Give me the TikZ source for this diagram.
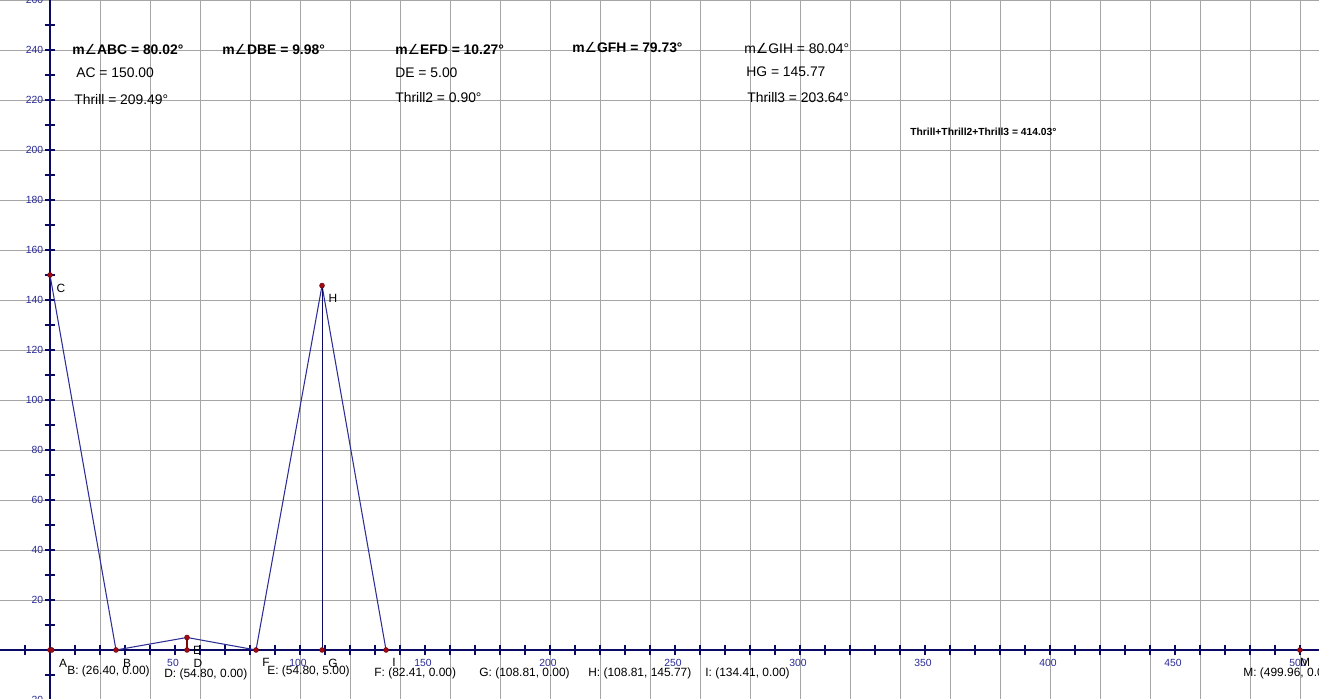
\documentclass[tikz,border=0pt]{standalone}
\usepackage{fontspec}
\setmainfont{Liberation Sans}
\newfontfamily\dejavu{DejaVu Sans}
\definecolor{gridgray}{RGB}{165,165,165}
\definecolor{axisnavy}{RGB}{10,10,100}
\definecolor{ticklbl}{RGB}{40,40,150}
\definecolor{segblue}{RGB}{45,45,150}
\definecolor{ptred}{RGB}{160,10,20}
\newcommand{\ang}{{\fontspec{DejaVu Sans}\mdseries ∠}}
\begin{document}
\begin{tikzpicture}[x=0.05cm,y=0.05cm,
  gridline/.style={draw=gridgray,line width=0.55pt},
  axisline/.style={draw=axisnavy,line width=0.7pt},
  ticklabel/.style={text=ticklbl,inner sep=0pt,font=\fontsize{5.9}{7}\selectfont},
  bigtxt/.style={anchor=west,inner sep=0pt,font=\fontsize{7.9}{9}\selectfont},
  bigbold/.style={anchor=west,inner sep=0pt,font=\fontsize{7.9}{9}\selectfont\bfseries},
  smallbold/.style={anchor=west,inner sep=0pt,font=\fontsize{5.85}{7}\selectfont\bfseries},
  ptlabel/.style={inner sep=0pt,font=\fontsize{6.8}{8}\selectfont},
  coordlabel/.style={anchor=west,inner sep=0pt,font=\fontsize{6.8}{8}\selectfont},
  seg/.style={draw=segblue,line width=0.6pt},
  dot/.style={circle,fill=ptred,draw=ptred!70!black,line width=0.3pt,inner sep=0pt,minimum size=2.8pt}]
\useasboundingbox (-20,-19.6) rectangle (507.6,260);
\clip (-20,-19.6) rectangle (507.6,260);
% grid
\foreach \x in {0,20,...,500} \draw[gridline] (\x,-19.6) -- (\x,260);
\foreach \y in {-20,0,...,260} \draw[gridline] (-20,\y) -- (507.6,\y);
% axes
\draw[axisline] (-20,0) -- (507.6,0);
\draw[axisline] (0,-19.6) -- (0,260);
\foreach \x in {-10,10,20,...,500} \draw[axisline] (\x,-2) -- (\x,2);
\foreach \y in {-10,10,20,...,250} \draw[axisline] (-2,\y) -- (2,\y);
\foreach \x in {50,100,...,500} \node[ticklabel] at (\x-0.8,-5.2) {\x};
\foreach \y in {-20,20,40,...,260} \node[ticklabel,anchor=east] at (-2.6,\y) {\y};
% points
\coordinate (pA) at (0,0);
\coordinate (pB) at (26.40,0);
\coordinate (pC) at (0,150);
\coordinate (pD) at (54.80,0);
\coordinate (pE) at (54.80,5);
\coordinate (pF) at (82.41,0);
\coordinate (pG) at (108.81,0);
\coordinate (pH) at (108.81,145.77);
\coordinate (pI) at (134.41,0);
\coordinate (pM) at (499.96,0);
% segments
\draw[seg] (pC) -- (pB) -- (pE) -- (pF) -- (pH) -- (pI);
\draw[draw=axisnavy,line width=0.6pt] (pH) -- (pG);
\draw[draw=ptred!80!black,line width=0.6pt] (pD) -- (pE);
% dots
\foreach \p in {pA,pB,pC,pD,pE,pF,pG,pH,pI,pM} \node[dot] at (\p) {};
\node[dot] at ([xshift=1pt]pA) {};
% point labels
\node[ptlabel] (lC) at (4.4,144.8) {C};
\node[ptlabel] (lH) at (113.2,140.8) {H};
\node[ptlabel] (lA) at (5.2,-5.2) {A};
\node[ptlabel] (lB) at (30.8,-5.2) {B};
\node[ptlabel] (lD) at (59.2,-5.2) {D};
\node[ptlabel] (lE) at (58.8,0) {E};
\node[ptlabel] (lF) at (86.4,-4.8) {F};
\node[ptlabel] (lG) at (113.2,-5.2) {G};
\node[ptlabel] (lI) at (137.6,-4.8) {I};
\node[ptlabel] (lM) at (502,-4.8) {M};
% coordinate labels
\node[coordlabel] (cB) at (6.8,-8.4) {B: (26.40, 0.00)};
\node[coordlabel] (cD) at (45.6,-9.6) {D: (54.80, 0.00)};
\node[coordlabel] (cE) at (86.8,-8.4) {E: (54.80, 5.00)};
\node[coordlabel] (cF) at (129.6,-9.2) {F: (82.41, 0.00)};
\node[coordlabel] (cG) at (171.6,-9.2) {G: (108.81, 0.00)};
\node[coordlabel] (cH) at (215.2,-9.2) {H: (108.81, 145.77)};
\node[coordlabel] (cI) at (262,-9.2) {I: (134.41, 0.00)};
\node[coordlabel] (cM) at (477.2,-9.2) {M: (499.96, 0.00)};
% measurement texts
\node[bigbold] (t1) at (8.8,240) {m\ang ABC = 80.02°};
\node[bigtxt] (t2) at (10.4,230.8) {AC = 150.00};
\node[bigtxt] (t3) at (9.6,220) {Thrill = 209.49°};
\node[bigbold] (t4) at (68.8,240) {m\ang DBE = 9.98°};
\node[bigbold] (t5) at (138,240) {m\ang EFD = 10.27°};
\node[bigtxt] (t6) at (138,230.8) {DE = 5.00};
\node[bigtxt] (t7) at (138,220.8) {Thrill2 = 0.90°};
\node[bigbold] (t8) at (208.8,240.8) {m\ang GFH = 79.73°};
\node[bigtxt] (t9) at (277.6,240.4) {m\ang GIH = 80.04°};
\node[bigtxt] (t10) at (278.4,231.2) {HG = 145.77};
\node[bigtxt] (t11) at (278.8,220.8) {Thrill3 = 203.64°};
\node[smallbold] (t12) at (344,207.2) {Thrill+Thrill2+Thrill3 = 414.03°};
\end{tikzpicture}
\end{document}
